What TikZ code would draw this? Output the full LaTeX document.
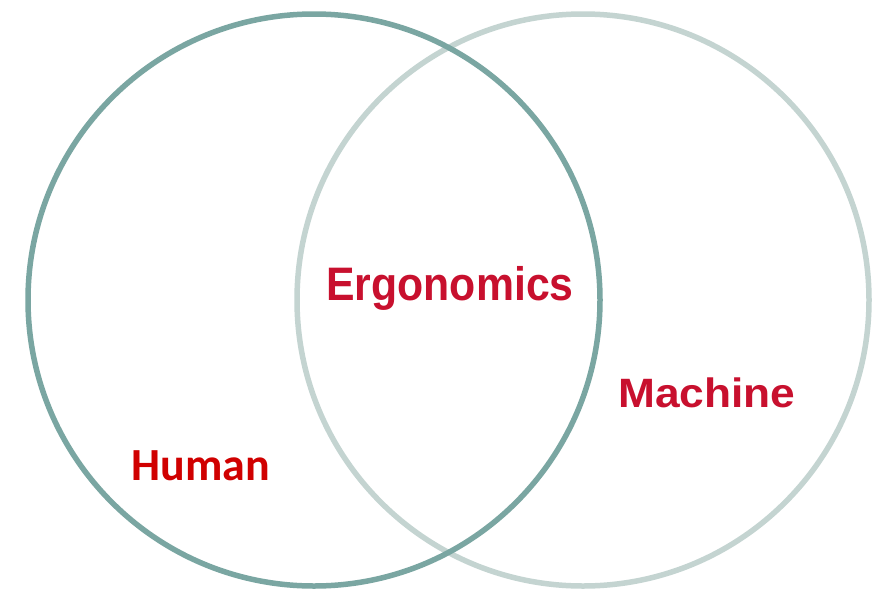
\documentclass[tikz,border=0pt]{standalone}
\usepackage{fontspec}
\setmainfont{Liberation Sans}
\newfontfamily\calib{Carlito}
\definecolor{leftring}{RGB}{122,166,162}
\definecolor{rightring}{RGB}{196,212,209}
\definecolor{crimson}{RGB}{200,16,46}
\definecolor{humanred}{RGB}{208,0,0}
\begin{document}
\begin{tikzpicture}[x=1pt,y=-1pt,
  ring/.style={line width=5.5pt},
  redlabel/.style={anchor=base,inner sep=0pt,text=crimson,font=\bfseries\fontsize{47}{50}\selectfont}]
\useasboundingbox (0,0) rectangle (881,592);
\fill[white] (0,0) rectangle (881,592);
\draw[ring,rightring] (583,300) circle[radius=286];
\draw[ring,leftring] (314,300) circle[radius=286];
\node[redlabel,xscale=0.91] (ergo) at (450,300) {Ergonomics};
\node[redlabel,font=\bfseries\fontsize{41}{44}\selectfont,xscale=1.08] (mach) at (707,407) {Machine};
\node[anchor=base,inner sep=0pt,text=humanred,font=\calib\bfseries\fontsize{46}{50}\selectfont] (human) at (201,480) {Human};
\end{tikzpicture}
\end{document}
